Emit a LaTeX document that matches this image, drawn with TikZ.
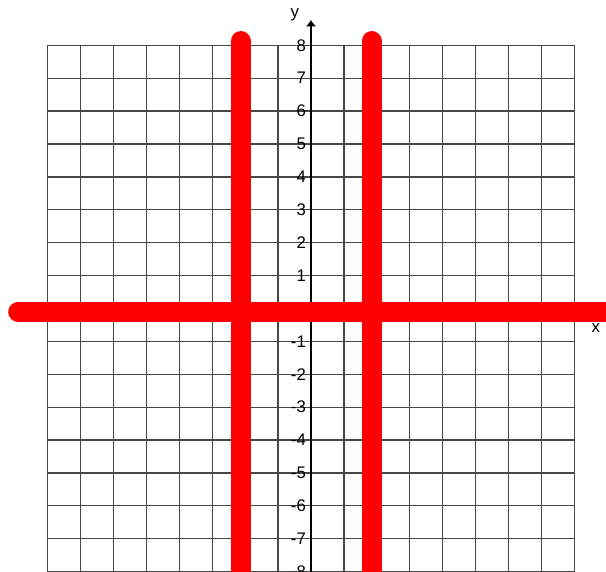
\documentclass[tikz,border=0pt]{standalone}
\usepackage{fontspec}
\setmainfont{Liberation Sans}
\usetikzlibrary{arrows.meta}
\begin{document}
\begin{tikzpicture}[gridline/.style={draw=black!72,line width=1.05pt},
  axisline/.style={draw=black,line width=1.1pt},
  redline/.style={draw=red,line width=0.608cm,line cap=round},
  lbl/.style={font=\fontsize{14.5}{16}\selectfont,inner sep=0pt}]
\useasboundingbox (-9.453,-8.009) rectangle (8.967,9.377);
\draw[gridline,step=1] (-8,-8) grid (8,8);
\draw[axisline,-{Latex[length=5.5pt,width=9pt]}] (0,-8) -- (0,8.77);
\draw[axisline,-{Latex[length=5.5pt,width=9pt]}] (-8,0) -- (8.6,0);
%\fill[red!60] (0,0) circle (.1);
\foreach \n in {-8,...,-1,1,2,...,8}{
  \draw (-0.15,\n) node[lbl,anchor=east] (ylab\n) {\n};
  \draw (\n,-0.05) node[lbl,anchor=north] (xlab\n) {\n};
}
\draw (8.66,-0.59) node[lbl] (xname) {x};
\draw (-0.49,8.92) node[lbl] (yname) {y};
\draw[redline] (-2.14,8.13) -- (-2.14,-8.6);
\draw[redline] (1.84,8.13) -- (1.84,-8.6);
\draw[redline] (-8.9,-0.1) -- (9.6,-0.1);
\end{tikzpicture}
\end{document}
